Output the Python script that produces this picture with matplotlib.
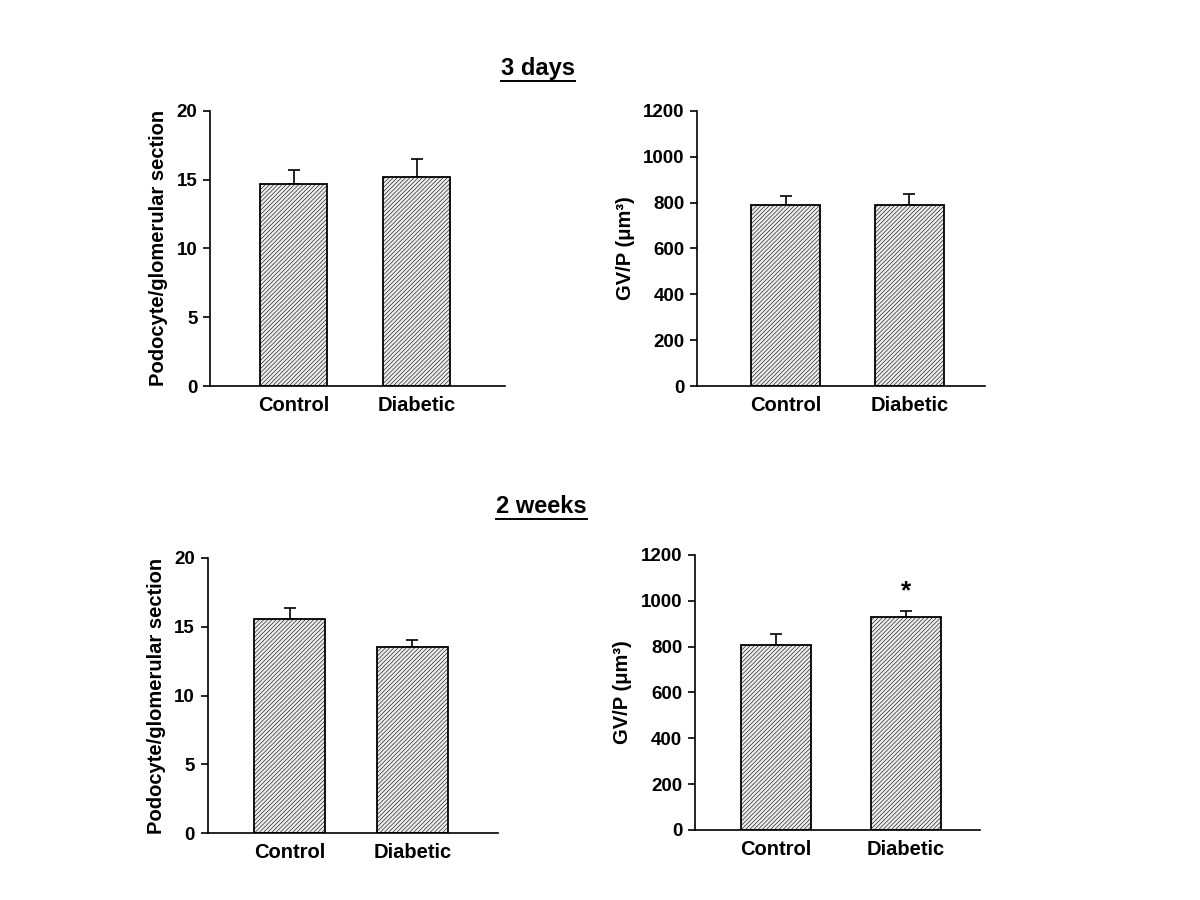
import numpy as np
import matplotlib
matplotlib.use('Agg')
import matplotlib.pyplot as plt
from matplotlib.lines import Line2D

plt.rcParams['font.family'] = ['Liberation Sans', 'DejaVu Sans']
plt.rcParams['font.weight'] = 'bold'
plt.rcParams['hatch.color'] = '#b8b8b8'
plt.rcParams['hatch.linewidth'] = 0.4

groups = ['Control', 'Diabetic']

# 3 days
podo_3d = [14.7, 15.2]
podo_3d_err = [1.0, 1.3]
gvp_3d = [790, 787]
gvp_3d_err = [40, 48]

# 2 weeks
podo_2w = [15.6, 13.5]
podo_2w_err = [0.8, 0.55]
gvp_2w = [807, 930]
gvp_2w_err = [48, 25]

fig = plt.figure(figsize=(12, 9), dpi=100)

panels = [
    # rect, values, errors, ylim, yticks, ylabel, xlim, width
    ([0.175, 0.571, 0.246, 0.306], podo_3d, podo_3d_err, 20, [0, 5, 10, 15, 20],
     'Podocyte/glomerular section', (0.32, 2.72), 0.545),
    ([0.581, 0.571, 0.240, 0.306], gvp_3d, gvp_3d_err, 1200, range(0, 1201, 200),
     'GV/P (\u03bcm\u00b3)', (0.283, 2.615), 0.555),
    ([0.173, 0.0744, 0.242, 0.3056], podo_2w, podo_2w_err, 20, [0, 5, 10, 15, 20],
     'Podocyte/glomerular section', (0.33, 2.70), 0.58),
    ([0.579, 0.0778, 0.238, 0.3056], gvp_2w, gvp_2w_err, 1200, range(0, 1201, 200),
     'GV/P (\u03bcm\u00b3)', (0.375, 2.575), 0.54),
]

axes = []
for rect, vals, errs, ymax, yt, ylab, xl, w in panels:
    ax = fig.add_axes(rect)
    x = np.arange(1, len(groups) + 1)
    ax.bar(x, vals, width=w, facecolor='#ececec', edgecolor='black',
           linewidth=1.3, hatch='////////', zorder=2)
    ax.errorbar(x, vals, yerr=[np.zeros(len(vals)), errs], fmt='none',
                ecolor='black', elinewidth=1.2, capsize=4, capthick=1.2, zorder=1)
    ax.set_ylim(0, ymax)
    ax.set_xlim(*xl)
    ax.set_yticks(list(yt))
    ax.set_xticks(x)
    ax.set_xticklabels(groups)
    ax.spines['top'].set_visible(False)
    ax.spines['right'].set_visible(False)
    ax.spines['left'].set_linewidth(1.2)
    ax.spines['bottom'].set_linewidth(1.2)
    ax.tick_params(axis='y', direction='out', length=5, width=1.2, labelsize=13.5, pad=4)
    ax.tick_params(axis='x', length=0, labelsize=14.5, pad=7)
    for lab in ax.get_yticklabels() + ax.get_xticklabels():
        lab.set_fontweight('bold')
    ax.set_ylabel(ylab, fontsize=14.5, fontweight='bold', labelpad=6)
    axes.append(ax)

# significance marker
axes[3].text(2, gvp_2w[1] + gvp_2w_err[1] + 35, '*', ha='center', va='bottom',
             fontsize=19, fontweight='bold')

t1 = fig.text(0.448, 0.924, '3 days', ha='center', va='center', fontsize=17, fontweight='bold')
t2 = fig.text(0.451, 0.437, '2 weeks', ha='center', va='center', fontsize=17, fontweight='bold')

fig.canvas.draw()
renderer = fig.canvas.get_renderer()
for t in (t1, t2):
    bb = t.get_window_extent(renderer).transformed(fig.transFigure.inverted())
    yl = bb.y0 - 0.001
    fig.add_artist(Line2D([bb.x0, bb.x1], [yl, yl], color='black', linewidth=1.4,
                          transform=fig.transFigure))

fig.savefig('out.png', dpi=100)
